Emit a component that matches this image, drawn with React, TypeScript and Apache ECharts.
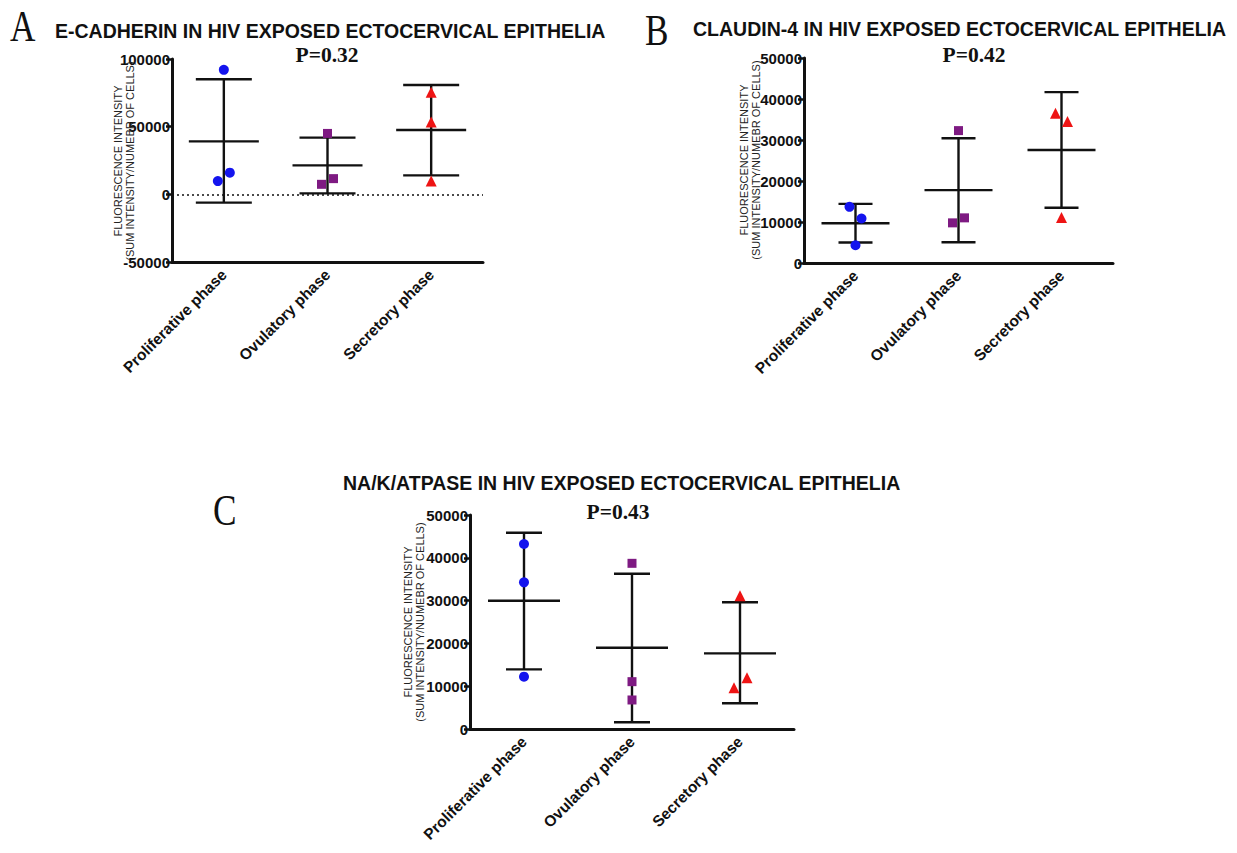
import React, { useEffect, useRef } from 'react';
import * as echarts from 'echarts';

// ---------- data ----------
const categories = ['Proliferative phase', 'Ovulatory phase', 'Secretory phase'];

// Panel A: E-cadherin
const eCadProliferative = [92000, 9800, 16000];
const eCadOvulatory = [45000, 7400, 11600];
const eCadSecretory = [75500, 53400, 9800];
const eCadMean = [39100, 21400, 47500];
const eCadUpper = [85000, 41900, 80800];
const eCadLower = [-6100, 700, 14000];

// Panel B: Claudin-4
const cldProliferative = [13700, 10860, 4330];
const cldOvulatory = [32290, 9790, 11010];
const cldSecretory = [36540, 34500, 11100];
const cldMean = [9710, 17780, 27570];
const cldUpper = [14430, 30430, 41680];
const cldLower = [4990, 5060, 13460];

// Panel C: Na/K/ATPase
const nakProliferative = [43220, 34270, 12230];
const nakOvulatory = [38710, 11060, 6780];
const nakSecretory = [31150, 11990, 9650];
const nakMean = [29980, 19000, 17680];
const nakUpper = [45870, 36290, 29600];
const nakLower = [13940, 1560, 6000];

const titles = [
  'E-CADHERIN IN HIV EXPOSED ECTOCERVICAL EPITHELIA',
  'CLAUDIN-4 IN HIV EXPOSED ECTOCERVICAL EPITHELIA',
  'NA/K/ATPASE IN HIV EXPOSED ECTOCERVICAL EPITHELIA',
];
const pValues = ['P=0.32', 'P=0.42', 'P=0.43'];
const panelLetters = ['A', 'B', 'C'];
const yAxisName = 'FLUORESCENCE INTENSITY\n(SUM INTENSITY/NUMEBR OF CELLS)';

// ---------- layout / style ----------
const SANS = '"Liberation Sans", Arial, sans-serif';
const SERIF = '"Liberation Serif", "Times New Roman", serif';
const INK = '#111';

const panels = [
  {
    grid: { left: 172, top: 59, width: 311, height: 203 },
    yMin: -50000, yMax: 100000, interval: 50000,
    groups: [eCadProliferative, eCadOvulatory, eCadSecretory],
    mean: eCadMean, upper: eCadUpper, lower: eCadLower,
    jitter: [[0, -6, 6], [0, -6, 6], [0, 0, 0]],
    meanW: 70, capW: 56, zeroLine: true,
    letter: { x: 10, y: 26 }, title: { x: 55, y: 31 }, p: { x: 327, y: 55 },
    yName: { x: 124, y: 161 },
  },
  {
    grid: { left: 804, top: 58, width: 309, height: 205 },
    yMin: 0, yMax: 50000, interval: 10000,
    groups: [cldProliferative, cldOvulatory, cldSecretory],
    mean: cldMean, upper: cldUpper, lower: cldLower,
    jitter: [[-6, 6, 0], [0, -6, 6], [-6, 6, 0]],
    meanW: 68, capW: 34, zeroLine: false,
    letter: { x: 645, y: 30 }, title: { x: 693, y: 29 }, p: { x: 974, y: 55 },
    yName: { x: 750, y: 160 },
  },
  {
    grid: { left: 470, top: 515, width: 324, height: 214 },
    yMin: 0, yMax: 50000, interval: 10000,
    groups: [nakProliferative, nakOvulatory, nakSecretory],
    mean: nakMean, upper: nakUpper, lower: nakLower,
    jitter: [[0, 0, 0], [0, 0, 0], [0, 7, -6]],
    meanW: 72, capW: 36, zeroLine: false,
    letter: { x: 213, y: 510 }, title: { x: 343, y: 483 }, p: { x: 618, y: 512 },
    yName: { x: 414, y: 622 },
  },
];

const markerStyles = [
  { symbol: 'circle', size: 10, color: '#1414ee' },
  { symbol: 'rect', size: 9, color: '#7e1a82' },
  { symbol: 'triangle', size: 11, color: '#ee1414' },
];

function buildOption() {
  const grid: any[] = [];
  const xAxis: any[] = [];
  const yAxis: any[] = [];
  const series: any[] = [];
  const graphic: any[] = [];

  panels.forEach((p, i) => {
    grid.push({ ...p.grid, containLabel: false });
    xAxis.push({
      type: 'category',
      gridIndex: i,
      data: categories,
      boundaryGap: true,
      axisLine: { onZero: false, lineStyle: { color: INK, width: 3 } },
      axisTick: { alignWithLabel: true, length: 6, lineStyle: { color: INK, width: 3 } },
      axisLabel: {
        rotate: 45,
        margin: 10,
        color: INK,
        fontFamily: SANS,
        fontWeight: 'bold',
        fontSize: 15.5,
        interval: 0,
      },
      splitLine: { show: false },
    });
    yAxis.push({
      type: 'value',
      gridIndex: i,
      min: p.yMin,
      max: p.yMax,
      interval: p.interval,
      axisLine: { show: true, lineStyle: { color: INK, width: 3 } },
      axisTick: { show: true, length: 6, lineStyle: { color: INK, width: 2.5 } },
      axisLabel: {
        margin: 2,
        color: INK,
        fontFamily: SANS,
        fontWeight: 'bold',
        fontSize: 15,
        formatter: (v: number) => String(v),
      },
      splitLine: { show: false },
    });

    const meanW = p.meanW;
    const capW = p.capW;
    series.push({
      type: 'custom',
      xAxisIndex: i,
      yAxisIndex: i,
      z: 2,
      clip: false,
      encode: { x: 0, y: [1, 2, 3] },
      data: categories.map((_, k) => [k, p.mean[k], p.upper[k], p.lower[k]]),
      renderItem: (params: any, api: any) => {
        const k = api.value(0);
        const m = api.coord([k, api.value(1)]);
        const u = api.coord([k, api.value(2)]);
        const l = api.coord([k, api.value(3)]);
        const cx = m[0];
        const style = { stroke: INK, lineWidth: 2.4, fill: null };
        return {
          type: 'group',
          children: [
            { type: 'line', shape: { x1: cx - meanW / 2, y1: m[1], x2: cx + meanW / 2, y2: m[1] }, style },
            { type: 'line', shape: { x1: cx, y1: u[1], x2: cx, y2: l[1] }, style },
            { type: 'line', shape: { x1: cx - capW / 2, y1: u[1], x2: cx + capW / 2, y2: u[1] }, style },
            { type: 'line', shape: { x1: cx - capW / 2, y1: l[1], x2: cx + capW / 2, y2: l[1] }, style },
          ],
        };
      },
      markLine: p.zeroLine
        ? {
            silent: true,
            symbol: 'none',
            label: { show: false },
            lineStyle: { type: [2, 3], color: INK, width: 1.6 },
            data: [{ yAxis: 0 }],
          }
        : undefined,
    });

    p.groups.forEach((vals, g) => {
      const ms = markerStyles[g];
      series.push({
        type: 'scatter',
        name: categories[g],
        xAxisIndex: i,
        yAxisIndex: i,
        z: 3,
        symbol: ms.symbol,
        symbolSize: ms.size,
        itemStyle: { color: ms.color, opacity: 1 },
        data: vals.map((v, j) => ({ value: [g, v], symbolOffset: [p.jitter[g][j], 0] })),
      });
    });

    // panel letter
    graphic.push({
      type: 'text',
      x: p.letter.x,
      y: p.letter.y,
      scaleX: 0.8,
      style: {
        text: panelLetters[i],
        fontFamily: SERIF,
        fontSize: 44,
        lineHeight: 34,
        fill: INK,
        align: 'left',
        verticalAlign: 'middle',
      },
    });
    // title
    graphic.push({
      type: 'text',
      x: p.title.x,
      y: p.title.y,
      style: { text: titles[i], fontFamily: SANS, fontWeight: 'bold', fontSize: 19.5, fill: INK, align: 'left', verticalAlign: 'middle' },
    });
    // p value
    graphic.push({
      type: 'text',
      x: p.p.x,
      y: p.p.y,
      style: { text: pValues[i], fontFamily: SERIF, fontWeight: 'bold', fontSize: 21.5, fill: INK, align: 'center', verticalAlign: 'middle' },
    });
    // y axis name
    graphic.push({
      type: 'text',
      x: p.yName.x,
      y: p.yName.y,
      rotation: Math.PI / 2,
      z: 10,
      style: {
        text: yAxisName,
        fontFamily: SANS,
        fontSize: 11,
        lineHeight: 12.5,
        fill: '#222',
        align: 'center',
        verticalAlign: 'middle',
      },
    });
  });

  return {
    animation: false,
    backgroundColor: '#ffffff',
    grid,
    xAxis,
    yAxis,
    series,
    graphic,
  };
}

export default function App() {
  const ref = useRef<HTMLDivElement>(null);
  useEffect(() => {
    if (!ref.current) return;
    const chart = echarts.init(ref.current, undefined, { renderer: 'svg' });
    chart.setOption(buildOption() as any);
    return () => chart.dispose();
  }, []);
  return (
    <div
      ref={ref}
      style={{ position: 'fixed', left: 0, top: 0, width: 1237, height: 853, background: '#fff' }}
    />
  );
}
